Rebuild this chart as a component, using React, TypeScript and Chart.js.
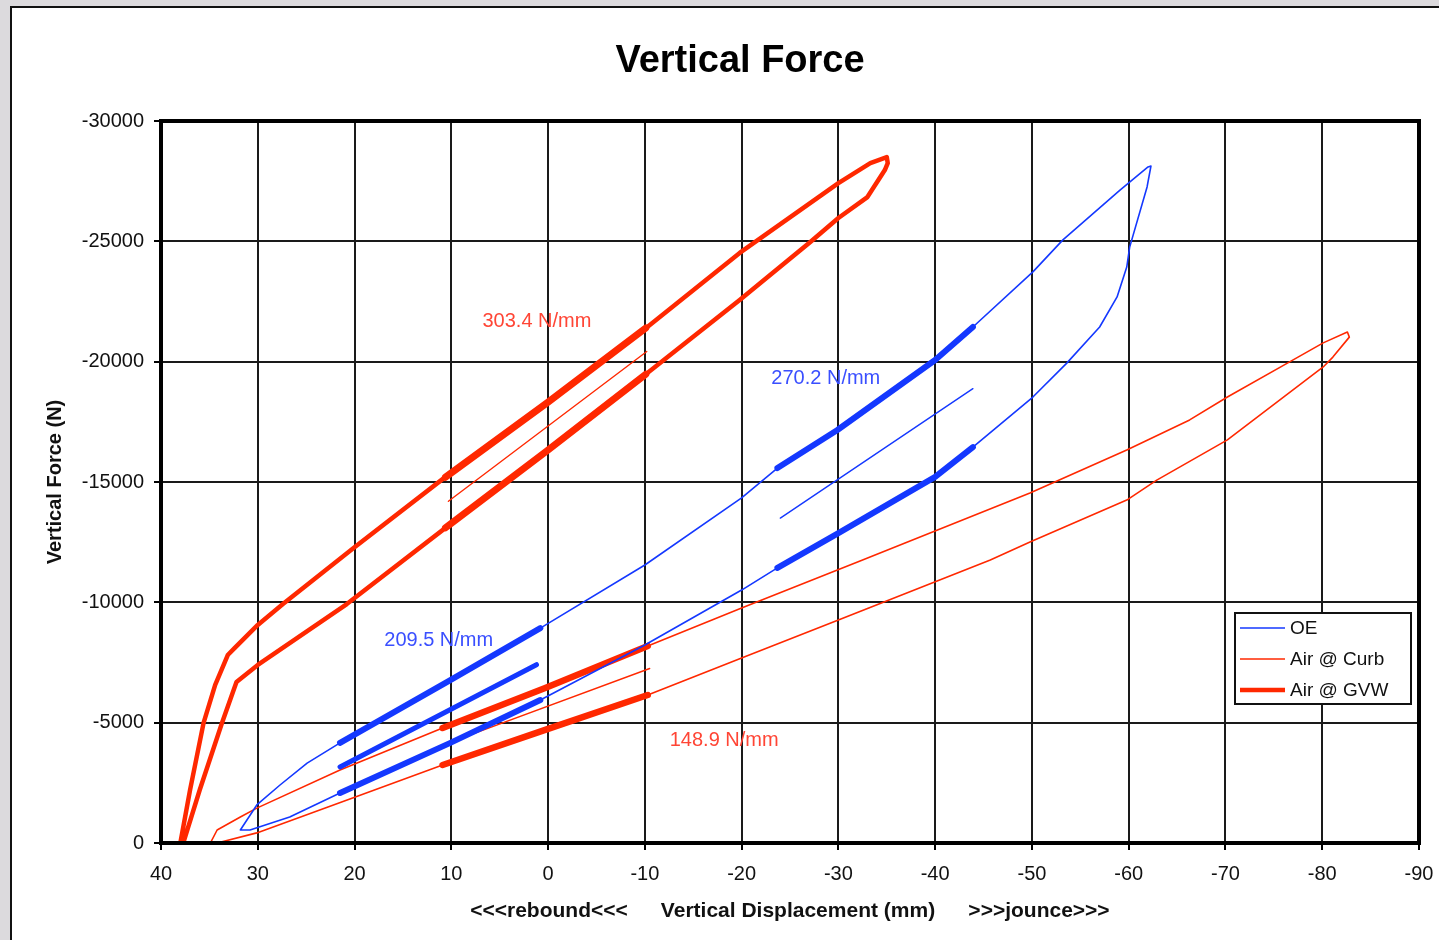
import { useEffect, useRef } from "react";
import { Chart, registerables } from "chart.js";

Chart.register(...registerables);

const RED = "#ff2800";
const BLUE = "#1438ff";
const FONT = "'Liberation Sans', Arial, sans-serif";

const TITLE = "Vertical Force";
const Y_TITLE = "Vertical Force (N)";
const X_TITLE_LEFT = "<<<rebound<<<";
const X_TITLE_MID = "Vertical Displacement (mm)";
const X_TITLE_RIGHT = ">>>jounce>>>";

const X_MIN = -90;
const X_MAX = 40;
const X_STEP = 10;
const Y_MIN = -30000;
const Y_MAX = 0;
const Y_STEP = 5000;

// ---- OE (thin blue loop) ----
const oeDisp = [31.8, 30.1, 27.7, 24.9, 21.5, 10.1, 0.8, -10.0, -20.0, -23.7, -29.9, -40.0, -43.9, -50.1, -53.2, -59.1, -62.0, -62.3, -61.9, -60.1, -59.8, -58.8, -57.0, -53.6, -50.1, -43.9, -40.0, -30.0, -25.0, -23.7, -20.0, -10.0, 0.8, 10.1, 21.5, 26.7, 30.8, 31.8];
const oeForce = [-540, -1580, -2410, -3320, -4160, -6770, -8930, -11550, -14340, -15580, -17160, -20070, -21440, -23730, -25060, -27130, -28090, -28130, -27260, -24760, -23930, -22690, -21440, -19940, -18530, -16450, -15210, -12880, -11760, -11430, -10510, -8230, -5940, -4160, -2080, -1080, -540, -540];

// OE highlighted fit regions
const oeUpperADisp = [21.5, 10.1, 0.8];
const oeUpperAForce = [-4160, -6770, -8930];
const oeLowerADisp = [21.5, 10.1, 0.8];
const oeLowerAForce = [-2080, -4160, -5940];
const oeUpperBDisp = [-23.7, -29.9, -40.0, -43.9];
const oeUpperBForce = [-15580, -17160, -20070, -21440];
const oeLowerBDisp = [-23.7, -30.0, -40.0, -43.9];
const oeLowerBForce = [-11430, -12880, -15210, -16450];

// OE fit lines
const oeFitADisp = [21.5, 1.2];
const oeFitAForce = [-3160, -7410];
const oeFitBDisp = [-24.0, -43.9];
const oeFitBForce = [-13500, -18880];

// ---- Air @ Curb (thin red loop) ----
const curbDisp = [34.9, 34.2, 31.8, 30.1, 21.5, 10.9, 0.3, -10.3, -20.0, -32.5, -49.8, -59.8, -66.3, -70.2, -76.4, -80.1, -82.6, -82.8, -81.1, -80.1, -70.2, -62.9, -59.8, -49.8, -45.7, -30.0, -20.0, -10.3, 0.3, 10.9, 20.2, 30.1, 34.2];
const curbForce = [0, -540, -1080, -1450, -3030, -4780, -6440, -8190, -9760, -11760, -14540, -16330, -17580, -18530, -19940, -20780, -21230, -21020, -20190, -19780, -16750, -15080, -14250, -12510, -11760, -9270, -7690, -6150, -4700, -3240, -1870, -420, 0];

const curbUpperDisp = [10.9, 0.3, -10.3];
const curbUpperForce = [-4780, -6440, -8190];
const curbLowerDisp = [10.9, 0.3, -10.3];
const curbLowerForce = [-3240, -4700, -6150];
const curbFitDisp = [10.0, -10.5];
const curbFitForce = [-4200, -7250];

// ---- Air @ GVW (thick red loop) ----
const gvwDisp = [38.0, 37.0, 35.6, 34.4, 33.1, 32.4, 30.0, 27.4, 20.1, 10.1, 0.0, -10.0, -19.8, -30.0, -33.3, -35.0, -35.1, -34.8, -33.0, -30.0, -27.1, -19.8, -10.0, 0.0, 10.1, 20.8, 30.0, 32.2, 33.7, 36.0, 37.7];
const gvwForce = [0, -2200, -4990, -6570, -7810, -8100, -9060, -9930, -12260, -15370, -18320, -21360, -24520, -27420, -28250, -28500, -28250, -27960, -26840, -25970, -24970, -22560, -19450, -16330, -13250, -9930, -7400, -6690, -4990, -2200, 0];

const gvwUpperDisp = [10.6, 0.0, -10.1];
const gvwUpperForce = [-15200, -18320, -21400];
const gvwLowerDisp = [10.6, 0.0, -10.1];
const gvwLowerForce = [-13100, -16330, -19480];
const gvwFitDisp = [10.3, -10.2];
const gvwFitForce = [-14200, -20420];

// ---- fit annotations ----
const fitLabels = ["303.4 N/mm", "270.2 N/mm", "209.5 N/mm", "148.9 N/mm"];
const fitLabelDisp = [1.15, -28.7, 11.3, -18.2];
const fitLabelForce = [-21650, -19320, -8435, -4240];
const fitLabelColors = ["#ff4535", "#3a4fff", "#3a4fff", "#ff4535"];

// ---- legend ----
const legendNames = ["OE", "Air @ Curb", "Air @ GVW"];
const legendColors = [BLUE, RED, RED];
const legendWidths = [1.6, 1.6, 4.5];

const pts = (xs: number[], ys: number[]) => xs.map((x, i) => ({ x, y: ys[i] }));

const line = (xs: number[], ys: number[], color: string, width: number) => ({
  data: pts(xs, ys),
  borderColor: color,
  backgroundColor: color,
  borderWidth: width,
  showLine: true,
  pointRadius: 0,
  pointHoverRadius: 0,
  fill: false,
  tension: 0,
  borderJoinStyle: "round" as const,
  borderCapStyle: "round" as const,
});

const decorPlugin = {
  id: "decor",
  afterDraw(chart: any) {
    const { ctx, chartArea: a, scales } = chart;
    const xs = scales.x;
    const ys = scales.y;
    ctx.save();

    // frame
    ctx.strokeStyle = "#000";
    ctx.lineWidth = 4;
    ctx.strokeRect(a.left, a.top, a.right - a.left, a.bottom - a.top);

    // title
    ctx.fillStyle = "#000";
    ctx.textAlign = "center";
    ctx.textBaseline = "middle";
    ctx.font = `bold 38px ${FONT}`;
    ctx.fillText(TITLE, a.left + (a.right - a.left) / 2 - 50, 62);

    // x axis title
    ctx.font = `bold 21px ${FONT}`;
    ctx.fillStyle = "#111";
    const cx = a.left + (a.right - a.left) / 2;
    ctx.fillText(X_TITLE_LEFT, cx - 241, 911);
    ctx.fillText(X_TITLE_MID, cx + 8, 911);
    ctx.fillText(X_TITLE_RIGHT, cx + 249, 911);

    // y axis title
    ctx.save();
    ctx.translate(55, a.top + (a.bottom - a.top) / 2);
    ctx.rotate(-Math.PI / 2);
    ctx.font = `bold 20px ${FONT}`;
    ctx.fillText(Y_TITLE, 0, 0);
    ctx.restore();

    // fit labels
    ctx.font = `20px ${FONT}`;
    fitLabels.forEach((t, i) => {
      ctx.fillStyle = fitLabelColors[i];
      ctx.fillText(t, xs.getPixelForValue(fitLabelDisp[i]), ys.getPixelForValue(fitLabelForce[i]));
    });

    // legend
    const lx = a.right - 184;
    const ly = a.top + 492;
    const lw = 176;
    const lh = 91;
    ctx.fillStyle = "#fff";
    ctx.fillRect(lx, ly, lw, lh);
    ctx.strokeStyle = "#111";
    ctx.lineWidth = 2;
    ctx.strokeRect(lx, ly, lw, lh);
    ctx.font = `19px ${FONT}`;
    ctx.textAlign = "left";
    legendNames.forEach((n, i) => {
      const y = ly + 15 + i * 31;
      ctx.strokeStyle = legendColors[i];
      ctx.lineWidth = legendWidths[i];
      ctx.beginPath();
      ctx.moveTo(lx + 5, y);
      ctx.lineTo(lx + 50, y);
      ctx.stroke();
      ctx.fillStyle = "#111";
      ctx.fillText(n, lx + 55, y + 1);
    });

    ctx.restore();
  },
};

export default function App() {
  const ref = useRef<HTMLCanvasElement | null>(null);

  useEffect(() => {
    document.body.style.margin = "0";
    const canvas = ref.current;
    if (!canvas) return;
    const chart = new Chart(canvas, {
      type: "scatter",
      data: {
        datasets: [
          line(oeUpperADisp, oeUpperAForce, BLUE, 6),
          line(oeLowerADisp, oeLowerAForce, BLUE, 6),
          line(oeUpperBDisp, oeUpperBForce, BLUE, 6),
          line(oeLowerBDisp, oeLowerBForce, BLUE, 6),
          line(oeFitADisp, oeFitAForce, BLUE, 5),
          line(oeFitBDisp, oeFitBForce, BLUE, 1.4),
          line(oeDisp, oeForce, BLUE, 1.6),
          line(curbUpperDisp, curbUpperForce, RED, 6.5),
          line(curbLowerDisp, curbLowerForce, RED, 6.5),
          line(curbFitDisp, curbFitForce, RED, 1.4),
          line(curbDisp, curbForce, RED, 1.6),
          line(gvwFitDisp, gvwFitForce, RED, 1.4),
          line(gvwUpperDisp, gvwUpperForce, RED, 7),
          line(gvwLowerDisp, gvwLowerForce, RED, 7),
          line(gvwDisp, gvwForce, RED, 4.5),
        ],
      },
      options: {
        responsive: false,
        animation: false,
        devicePixelRatio: 1,
        events: [],
        layout: { padding: { top: 121, right: 20, left: 0, bottom: 0 } },
        plugins: {
          legend: { display: false },
          tooltip: { enabled: false },
          title: { display: false },
        },
        scales: {
          x: {
            type: "linear",
            min: X_MIN,
            max: X_MAX,
            reverse: true,
            afterFit: (s: any) => {
              s.height = 97;
              s.paddingLeft = 0;
              s.paddingRight = 0;
            },
            ticks: {
              stepSize: X_STEP,
              color: "#111",
              font: { family: FONT, size: 20 },
              padding: 12,
              maxRotation: 0,
              callback: (v: any) => String(Number(v) === 0 ? 0 : v),
            },
            grid: { color: "#1a1a1a", lineWidth: 2, tickLength: 7, tickColor: "#000" },
            border: { display: true, color: "#000", width: 4 },
          },
          y: {
            type: "linear",
            min: Y_MIN,
            max: Y_MAX,
            reverse: true,
            afterFit: (s: any) => {
              s.width = 161;
              s.paddingTop = 0;
              s.paddingBottom = 0;
            },
            ticks: {
              stepSize: Y_STEP,
              color: "#111",
              font: { family: FONT, size: 20 },
              padding: 10,
              callback: (v: any) => String(Number(v) === 0 ? 0 : v),
            },
            grid: { color: "#1a1a1a", lineWidth: 2, tickLength: 7, tickColor: "#000" },
            border: { display: true, color: "#000", width: 4 },
          },
        },
      },
      plugins: [decorPlugin],
    });
    return () => chart.destroy();
  }, []);

  return (
    <div
      style={{
        position: "fixed",
        left: 0,
        top: 0,
        width: 1439,
        height: 940,
        overflow: "hidden",
        background: "#dcdadd",
      }}
    >
      <div
        style={{
          position: "absolute",
          left: 10,
          top: 6,
          width: 1460,
          height: 960,
          background: "#fff",
          borderLeft: "2px solid #111",
          borderTop: "2px solid #111",
        }}
      />
      <canvas
        ref={ref}
        width={1439}
        height={940}
        style={{ position: "absolute", left: 0, top: 0, width: 1439, height: 940 }}
      />
    </div>
  );
}
